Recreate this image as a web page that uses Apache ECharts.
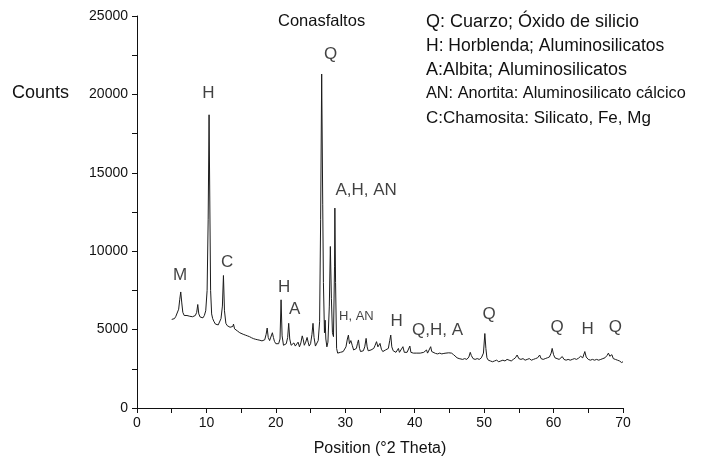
<!DOCTYPE html>
<html>
<head>
<meta charset="utf-8">
<script src="https://cdn.jsdelivr.net/npm/echarts@6/dist/echarts.min.js"></script>
<style>html,body{margin:0;padding:0;background:#fff}#c{width:703px;height:469px}</style>
</head>
<body>
<div id="c"></div>
<script>
// XRD pattern: [2θ, counts]
const xrdPattern = [
[5.0,5650],[5.2,5750],[5.4,5700],[5.6,5850],[5.8,5950],[6.0,6300],[6.15,6900],[6.3,7400],[6.45,6700],[6.6,6100],[6.8,5900],[7.0,5850],[7.2,5900],[7.4,5800],[7.6,5850],[7.8,5780],[8.0,5820],[8.2,5750],[8.4,5900],[8.6,6100],[8.75,6600],[8.9,6000],[9.1,5800],[9.3,5850],[9.5,5750],[9.7,5900],[9.9,6200],[10.1,7500],[10.25,12000],[10.38,18700],[10.5,12500],[10.6,7500],[10.75,6000],[10.9,5700],[11.1,5500],[11.3,5350],[11.5,5450],[11.7,5300],[11.9,5400],[12.1,5700],[12.3,6500],[12.45,8450],[12.6,6200],[12.8,5400],[13.0,5250],[13.2,5200],[13.4,5150],[13.6,5100],[13.8,5200],[13.9,5350],[14.05,5050],[14.3,4950],[14.5,4900],[14.8,4800],[15.0,4750],[15.3,4700],[15.6,4650],[15.9,4600],[16.2,4550],[16.5,4480],[16.8,4420],[17.1,4380],[17.4,4350],[17.7,4320],[18.0,4280],[18.2,4250],[18.4,4350],[18.6,4700],[18.75,5100],[18.9,4500],[19.1,4300],[19.3,4400],[19.5,4800],[19.65,4500],[19.8,4250],[20.0,4100],[20.2,4050],[20.4,4100],[20.6,4400],[20.75,6900],[20.9,4600],[21.1,4000],[21.3,3950],[21.5,4100],[21.7,4500],[21.85,5400],[22.0,4400],[22.2,4000],[22.4,3900],[22.6,4150],[22.8,3950],[23.0,3950],[23.2,4200],[23.4,3900],[23.6,4150],[23.8,4600],[23.95,4350],[24.1,4000],[24.3,4200],[24.5,4500],[24.65,4200],[24.8,3950],[25.0,4100],[25.2,4700],[25.35,5400],[25.5,4500],[25.7,3950],[25.9,4000],[26.1,4300],[26.3,5500],[26.45,12000],[26.6,21300],[26.75,13000],[26.85,8000],[27.0,4800],[27.1,5600],[27.2,4400],[27.35,3900],[27.5,4200],[27.7,6500],[27.85,10300],[28.0,7000],[28.15,4800],[28.3,4550],[28.45,9000],[28.5,12750],[28.6,8000],[28.75,3800],[28.9,3500],[29.1,3600],[29.3,3550],[29.5,3650],[29.7,3600],[29.9,3700],[30.1,3900],[30.3,4400],[30.45,4650],[30.6,4100],[30.8,4300],[31.0,4000],[31.2,3700],[31.4,3650],[31.6,3800],[31.75,4100],[31.9,4340],[32.05,3800],[32.2,3600],[32.4,3700],[32.6,3650],[32.8,3900],[33.0,4440],[33.15,3900],[33.3,3650],[33.5,3600],[33.7,3700],[33.9,3650],[34.1,3800],[34.3,4000],[34.5,4230],[34.7,3900],[34.9,4000],[35.0,4120],[35.2,3750],[35.4,3600],[35.6,3550],[35.8,3700],[36.0,3650],[36.2,3800],[36.4,4300],[36.55,4650],[36.7,3900],[36.9,3650],[37.1,3600],[37.3,3550],[37.5,3650],[37.65,3800],[37.8,3550],[38.0,3600],[38.3,3910],[38.5,3550],[38.7,3500],[38.9,3550],[39.1,3600],[39.3,3950],[39.45,3550],[39.6,3450],[39.8,3500],[40.0,3450],[40.3,3500],[40.5,3450],[40.8,3500],[41.0,3480],[41.3,3550],[41.5,3500],[41.7,3700],[41.85,3500],[42.0,3550],[42.3,3910],[42.45,3600],[42.7,3500],[43.0,3480],[43.3,3450],[43.6,3500],[43.9,3450],[44.2,3480],[44.5,3500],[44.7,3600],[44.9,3520],[45.1,3450],[45.3,3500],[45.6,3400],[45.8,3300],[46.1,3200],[46.4,3150],[46.6,3050],[46.9,3100],[47.2,3150],[47.5,3100],[47.8,3250],[48.0,3550],[48.15,3350],[48.4,3150],[48.7,3100],[49.0,3150],[49.3,3100],[49.6,3200],[49.9,3500],[50.1,4750],[50.25,3800],[50.4,3200],[50.6,3050],[50.9,3000],[51.2,2950],[51.5,3000],[51.8,3050],[52.1,2950],[52.4,3000],[52.7,3050],[53.0,3000],[53.3,3100],[53.6,3050],[53.9,3000],[54.2,3100],[54.5,3200],[54.75,3380],[55.0,3150],[55.3,3100],[55.6,3150],[55.9,3050],[56.2,3100],[56.5,3150],[56.8,3050],[57.1,3100],[57.4,3150],[57.7,3200],[58.0,3380],[58.2,3150],[58.5,3100],[58.8,3150],[59.1,3200],[59.4,3250],[59.65,3500],[59.8,3800],[60.0,3400],[60.2,3200],[60.5,3150],[60.8,3100],[61.0,3200],[61.25,3280],[61.5,3100],[61.8,3050],[62.1,3100],[62.4,3050],[62.7,3100],[63.0,3150],[63.3,3100],[63.6,3180],[63.9,3300],[64.2,3200],[64.5,3600],[64.7,3250],[65.0,3100],[65.3,3050],[65.6,3100],[65.9,3050],[66.2,3100],[66.5,3050],[66.8,3100],[67.1,3150],[67.4,3200],[67.7,3350],[67.9,3500],[68.1,3300],[68.4,3400],[68.6,3150],[68.9,3100],[69.2,3050],[69.5,3000],[69.8,2900],[70.0,2950]
];

// Peak annotations: text and [2θ, counts] anchor
const peakLabelText = ['Q','H','A,H, AN','C','M','H','A','H, AN','H','Q,H, A','Q','Q','H','Q'];
const peakLabelPos = [[27.9,22550],[10.3,20050],[33.0,13900],[13.0,9270],[6.2,8450],[21.2,7710],[22.7,6310],[31.6,5820],[37.4,5520],[43.3,4950],[50.7,5950],[60.5,5150],[64.9,5000],[68.9,5150]];
const peakLabelSize = [17,17,17,17,17,17,17,13,17,17,17,17,17,17];

const legendLines = [
  'Q: Cuarzo; Óxido de silicio',
  'H: Horblenda; Aluminosilicatos',
  'A:Albita; Aluminosilicatos',
  'AN: Anortita: Aluminosilicato cálcico',
  'C:Chamosita: Silicato, Fe, Mg'
];
const legendSizes = [18, 17.5, 18, 16.3, 17];
const xTicks = [0,10,20,30,40,50,60,70];
const yTicks = [0,5000,10000,15000,20000,25000];

const FONT = '"Liberation Sans", Arial, sans-serif';
const chart = echarts.init(document.getElementById('c'));
chart.setOption({
  animation: false,
  backgroundColor: '#fff',
  grid: {left: 137, right: 80, top: 16, bottom: 61},
  xAxis: {
    type: 'value', min: 0, max: 70, interval: 5,
    name: 'Position (°2 Theta)', nameLocation: 'middle', nameGap: 33,
    nameTextStyle: {fontFamily: FONT, fontSize: 16, color: '#111'},
    axisLine: {lineStyle: {color: '#111', width: 1}},
    axisTick: {length: 5, lineStyle: {color: '#111'}},
    axisLabel: {fontFamily: FONT, fontSize: 14, color: '#111', margin: 8,
      formatter: v => xTicks.includes(v) ? String(v) : ''},
    splitLine: {show: false}
  },
  yAxis: {
    type: 'value', min: 0, max: 25000, interval: 2500,
    axisLine: {show: true, lineStyle: {color: '#111', width: 1}},
    axisTick: {show: true, length: 5, lineStyle: {color: '#111'}},
    axisLabel: {fontFamily: FONT, fontSize: 14, color: '#111', margin: 9,
      formatter: v => yTicks.includes(v) ? String(v) : ''},
    splitLine: {show: false}
  },
  graphic: [
    {type: 'text', left: 12, top: 84, style: {text: 'Counts', font: '18px ' + FONT, fill: '#111'}},
    {type: 'text', left: 278, top: 13, style: {text: 'Conasfaltos', font: '16.5px ' + FONT, fill: '#111'}}
  ].concat(legendLines.map((t, i) => ({
    type: 'text', left: 426, top: 13 + i * 24.2,
    style: {text: t, font: legendSizes[i] + 'px ' + FONT, fill: '#111'}
  }))),
  series: [
    {
      type: 'line', data: xrdPattern, showSymbol: false, symbol: 'none', smooth: false,
      lineStyle: {color: '#1c1c1c', width: 1}, silent: true
    },
    {
      type: 'scatter', symbolSize: 1, itemStyle: {color: 'rgba(0,0,0,0)'}, silent: true,
      data: peakLabelPos.map((p, i) => ({
        value: p,
        label: {show: true, position: 'inside', formatter: peakLabelText[i],
          fontFamily: FONT, fontSize: peakLabelSize[i], color: '#111'}
      }))
    }
  ]
});
</script>
</body>
</html>
